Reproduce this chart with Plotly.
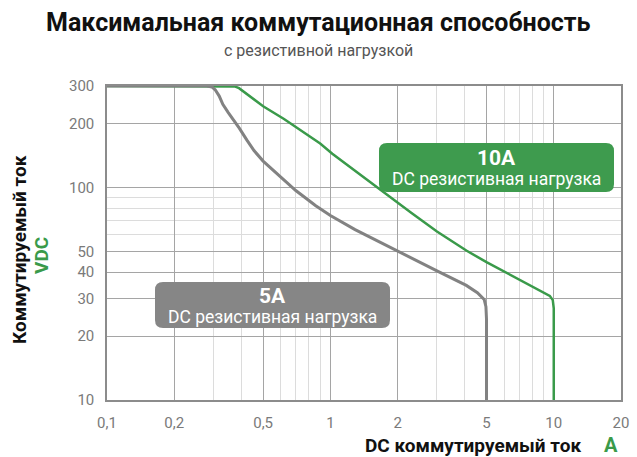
import plotly.graph_objects as go

# ---------------- data ----------------
x_5a = [0.1, 0.28, 0.295, 0.305, 0.318, 0.33, 0.349, 0.369, 0.391, 0.423, 0.455,
        0.5, 0.7, 0.86, 1.0, 1.29, 2.0, 2.29, 3.0, 4.06, 4.55, 4.88, 4.97, 5.0, 5.0]
y_5a = [300, 300, 297, 288, 269, 246, 225, 208, 190, 167, 149,
        133, 96.7, 82, 73.8, 63.3, 50, 46.6, 40.5, 34.6, 32.0, 29.7, 27.5, 24, 10]

x_10a = [0.1, 0.36, 0.375, 0.39, 0.5, 0.62, 0.7, 0.9, 1.02, 1.45, 2.0, 2.3,
         3.0, 4.06, 5.0, 6.0, 9.0, 9.6, 9.9, 10.0, 10.0]
y_10a = [300, 300, 298, 293, 241, 210, 193, 161, 144, 109, 85, 76,
         62, 50.5, 44.5, 40.2, 32, 30.9, 29.5, 27, 10]

x_tick_vals = [0.1, 0.2, 0.5, 1, 2, 5, 10, 20]
x_tick_text = ["0,1", "0,2", "0,5", "1", "2", "5", "10", "20"]
x_minor_grid = [0.3, 0.4, 0.6, 0.7, 0.8, 0.9, 3, 4, 6, 7, 8, 9]

y_tick_vals = [10, 20, 30, 40, 50, 100, 200, 300]
y_tick_text = ["10", "20", "30", "40", "50", "100", "200", "300"]
y_minor_grid = [60, 70, 80, 90]

title_text = "Максимальная коммутационная способность"
subtitle_text = "с резистивной нагрузкой"
label_10a = "10A"
label_5a = "5A"
label_load = "DC резистивная нагрузка"
y_title = "Коммутируемый ток"
y_unit = "VDC"
x_title = "DC коммутируемый ток"
x_unit = "A"

# ---------------- layout geometry ----------------
WIDTH, HEIGHT = 637, 457
L, R, T, B = 107, 16, 86, 57
PW = WIDTH - L - R
PH = HEIGHT - T - B
BOTTOM = HEIGHT - B

GREEN = "#3a9a4a"
GREEN_BOX = "#3e9b4e"
GRAY = "#828282"
GRAY_BOX = "#868686"
FONT = "Roboto"


def px_x(px):
    return (px - L) / PW


def px_y(py):
    return (BOTTOM - py) / PH


def rrect(x0, y0, x1, y1, r):
    def P(x, y):
        return f"{px_x(x):.5f},{px_y(y):.5f}"

    return (f"M {P(x0 + r, y0)} L {P(x1 - r, y0)} Q {P(x1, y0)} {P(x1, y0 + r)} "
            f"L {P(x1, y1 - r)} Q {P(x1, y1)} {P(x1 - r, y1)} "
            f"L {P(x0 + r, y1)} Q {P(x0, y1)} {P(x0, y1 - r)} "
            f"L {P(x0, y0 + r)} Q {P(x0, y0)} {P(x0 + r, y0)} Z")


fig = go.Figure()
fig.add_trace(go.Scatter(x=x_10a, y=y_10a, mode="lines",
                         line=dict(color=GREEN, width=2.5), hoverinfo="skip"))
fig.add_trace(go.Scatter(x=x_5a, y=y_5a, mode="lines",
                         line=dict(color=GRAY, width=3), hoverinfo="skip"))

fig.update_layout(
    width=WIDTH, height=HEIGHT,
    margin=dict(l=L, r=R, t=T, b=B, autoexpand=False),
    paper_bgcolor="white", plot_bgcolor="white",
    showlegend=False,
    font=dict(family=FONT, color="#777777", size=15),
)

axis_common = dict(
    type="log", tickmode="array",
    showgrid=True, gridcolor="#a5a5a5", gridwidth=1,
    showline=True, linecolor="#8c8c8c", linewidth=1.5, mirror=True,
    ticks="", ticklabelstandoff=8,
    tickfont=dict(family=FONT, size=15, color="#7a7a7a"),
    zeroline=False,
)
fig.update_xaxes(
    range=[-1, 1.30103], tickvals=x_tick_vals, ticktext=x_tick_text,
    minor=dict(tickmode="array", tickvals=x_minor_grid, showgrid=True,
               gridcolor="#dcdcdc", gridwidth=1, ticks=""),
    **axis_common,
)
fig.update_yaxes(
    range=[1, 2.4771213], tickvals=y_tick_vals, ticktext=y_tick_text,
    minor=dict(tickmode="array", tickvals=y_minor_grid, showgrid=True,
               gridcolor="#dcdcdc", gridwidth=1, ticks=""),
    **axis_common,
)

# label boxes
fig.add_shape(type="path", xref="paper", yref="paper",
              path=rrect(379, 143, 614, 192, 8),
              fillcolor=GREEN_BOX, line=dict(width=0), layer="above")
fig.add_shape(type="path", xref="paper", yref="paper",
              path=rrect(155, 282, 390, 328, 8),
              fillcolor=GRAY_BOX, line=dict(width=0), layer="above")

ann = []


def A(text, px, py, size, color, bold=False, angle=0, xanchor="center"):
    ann.append(dict(text=(f"<b>{text}</b>" if bold else text),
                    x=px_x(px), y=px_y(py), xref="paper", yref="paper",
                    showarrow=False, textangle=angle, xanchor=xanchor,
                    yanchor="middle",
                    font=dict(family=FONT, size=size, color=color)))


A(title_text, 318, 22, 25, "#111111", bold=True)
A(subtitle_text, 318, 50, 16, "#555555")
A(label_10a, 496, 158, 21, "white", bold=True)
A(label_load, 496, 179, 17.5, "white")
A(label_5a, 272, 296, 21, "white", bold=True)
A(label_load, 272, 317, 17.5, "white")
A(y_title, 19, 250, 19, "#111111", bold=True, angle=-90)
A(y_unit, 41, 256, 19, GREEN, bold=True, angle=-90)
A(x_title, 583, 445, 19, "#111111", bold=True, xanchor="right")
A(x_unit, 611, 445, 20, GREEN, bold=True)

fig.update_layout(annotations=ann)

fig.write_html("out.html", config={"displayModeBar": False},
               post_script="document.body.style.margin='0';")
